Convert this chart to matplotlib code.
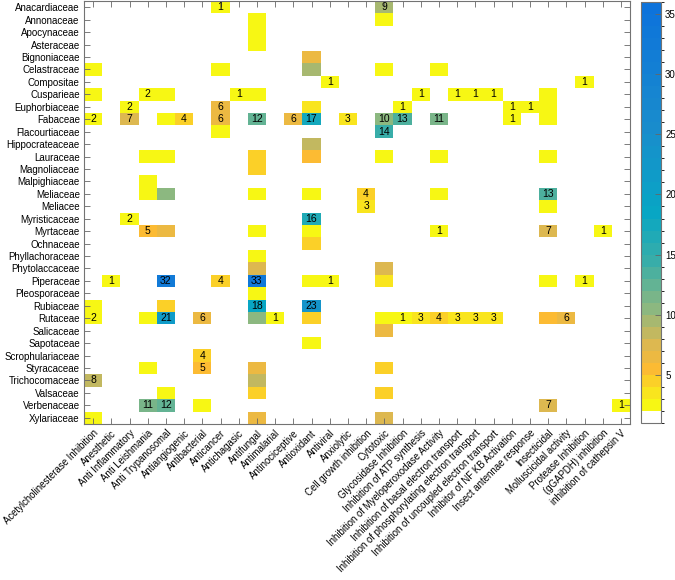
import numpy as np
import matplotlib
matplotlib.use('Agg')
import matplotlib.pyplot as plt
from matplotlib.colors import ListedColormap, LinearSegmentedColormap, BoundaryNorm

plt.rcParams['font.family'] = ['Liberation Sans', 'DejaVu Sans']

families = ['Anacardiaceae', 'Annonaceae', 'Apocynaceae', 'Asteraceae', 'Bignoniaceae',
            'Celastraceae', 'Compositae', 'Cusparieae', 'Euphorbiaceae', 'Fabaceae',
            'Flacourtiaceae', 'Hippocrateaceae', 'Lauraceae', 'Magnoliaceae', 'Malpighiaceae',
            'Meliaceae', 'Meliacee', 'Myristicaceae', 'Myrtaceae', 'Ochnaceae',
            'Phyllachoraceae', 'Phytolaccaceae', 'Piperaceae', 'Pleosporaceae', 'Rubiaceae',
            'Rutaceae', 'Salicaceae', 'Sapotaceae', 'Scrophulariaceae', 'Styracaceae',
            'Trichocomaceae', 'Valsaceae', 'Verbenaceae', 'Xylariaceae']

activities = ['Acetylcholinesterase Inhibition', 'Anesthetic', 'Anti Inflammatory',
              'Anti Leishmania', 'Anti Trypanosomal', 'Antiangiogenic', 'Antibacterial',
              'Anticancer', 'Antichagasic', 'Antifungal', 'Antimalarial', 'Antinociceptive',
              'Antioxidant', 'Antiviral', 'Anxiolytic', 'Cell growth inhibition', 'Cytotoxic',
              'Glycosidase Inhibition', 'Inhibition of ATP synthesis',
              'Inhibition of Myeloperoxodase Activity',
              'Inhibition of basal electron transport',
              'Inhibition of phosphorylating electron transport',
              'Inhibition of uncoupled electron transport', 'Inhibitor of NF KB Activation',
              'Insect antennae response', 'Insecticidal', 'Molluscicidal activity',
              'Protease Inhibition', '(gGAPDH) inhibition', 'inhibition of cathepsin V']

# one entry per family: activity columns, counts, and whether the count is printed
row_cols = [
    [7, 16],
    [9, 16],
    [9],
    [9],
    [12],
    [0, 7, 12, 16, 19],
    [13, 27],
    [0, 3, 4, 8, 9, 18, 20, 21, 22, 25],
    [2, 7, 12, 17, 23, 24, 25],
    [0, 2, 4, 5, 7, 9, 11, 12, 14, 16, 17, 19, 23, 25],
    [7, 16],
    [12],
    [3, 4, 9, 12, 16, 19, 25],
    [9],
    [3],
    [3, 4, 9, 12, 15, 19, 25],
    [15, 25],
    [2, 12],
    [3, 4, 9, 12, 19, 25, 28],
    [12],
    [9],
    [9, 16],
    [1, 4, 7, 9, 12, 13, 16, 25, 27],
    [9],
    [0, 4, 9, 12],
    [0, 3, 4, 6, 9, 10, 12, 16, 17, 18, 19, 20, 21, 22, 25, 26],
    [16],
    [12],
    [6],
    [3, 6, 9, 16],
    [0, 9],
    [4, 9, 16],
    [3, 4, 6, 25, 29],
    [0, 9, 16],
]
row_vals = [
    [1, 9],
    [1, 1],
    [1],
    [1],
    [6],
    [1, 1, 9, 1, 1],
    [1, 1],
    [1, 2, 1, 1, 1, 1, 1, 1, 1, 1],
    [2, 6, 3, 1, 1, 1, 1],
    [2, 7, 1, 4, 6, 12, 6, 17, 3, 10, 13, 11, 1, 1],
    [1, 14],
    [8],
    [1, 1, 4, 5, 1, 1, 1],
    [4],
    [1],
    [1, 10, 1, 1, 4, 1, 13],
    [3, 1],
    [2, 16],
    [5, 6, 1, 1, 1, 7, 1],
    [4],
    [1],
    [7, 7],
    [1, 32, 4, 33, 1, 1, 3, 1, 1],
    [1],
    [1, 4, 18, 23],
    [2, 1, 21, 6, 10, 1, 4, 1, 1, 3, 4, 3, 3, 3, 5, 6],
    [6],
    [1],
    [4],
    [1, 5, 6, 4],
    [8, 8],
    [1, 4, 4],
    [11, 12, 1, 7, 1],
    [1, 6, 7],
]
row_shown = [
    [1, 1],
    [0, 0],
    [0],
    [0],
    [0],
    [0, 0, 0, 0, 0],
    [1, 1],
    [0, 1, 0, 1, 0, 1, 1, 1, 1, 0],
    [1, 1, 0, 1, 1, 1, 0],
    [1, 1, 0, 1, 1, 1, 1, 1, 1, 1, 1, 1, 1, 0],
    [0, 1],
    [0],
    [0, 0, 0, 0, 0, 0, 0],
    [0],
    [0],
    [0, 0, 0, 0, 1, 0, 1],
    [1, 0],
    [1, 1],
    [1, 0, 0, 0, 1, 1, 1],
    [0],
    [0],
    [0, 0],
    [1, 1, 1, 1, 0, 1, 0, 0, 1],
    [0],
    [0, 0, 1, 1],
    [1, 0, 1, 1, 0, 1, 0, 0, 1, 1, 1, 1, 1, 1, 0, 1],
    [0],
    [0],
    [1],
    [0, 1, 0, 0],
    [1, 0],
    [0, 0, 0],
    [1, 1, 0, 1, 1],
    [0, 0, 0],
]

nr, nc = len(families), len(activities)
grid = np.full((nr, nc), np.nan)
for r in range(nr):
    for c, v in zip(row_cols[r], row_vals[r]):
        grid[r, c] = v

# yellow -> orange -> olive -> teal -> blue, one band per unit
grad = LinearSegmentedColormap.from_list('pr', [
    (0.0, (0.97, 0.97, 0.08)),
    (3 / 33, (0.99, 0.73, 0.20)),
    (5 / 33, (0.86, 0.72, 0.32)),
    (8 / 33, (0.55, 0.72, 0.50)),
    (12 / 33, (0.22, 0.68, 0.66)),
    (16 / 33, (0.03, 0.65, 0.77)),
    (23 / 33, (0.10, 0.55, 0.80)),
    (1.0, (0.05, 0.45, 0.86))])
colors = [(1, 1, 1)] + [grad(i / 33) for i in range(34)]
cmap = ListedColormap(colors)
cmap.set_under(colors[1])
cmap.set_bad((1, 1, 1, 0))
bounds = [1.1] + list(range(2, 37))
norm = BoundaryNorm(bounds, cmap.N)

fig = plt.figure(figsize=(6.75, 5.8), dpi=100)
ax = fig.add_axes([84 / 675, 1 - 424 / 580, 546 / 675, 423 / 580])
cax = fig.add_axes([641 / 675, 1 - 423 / 580, 20 / 675, 421 / 580])

mesh = ax.pcolormesh(np.arange(nc + 1) - 0.5, np.arange(nr + 1) - 0.5,
                     np.ma.masked_invalid(grid), cmap=cmap, norm=norm)
ax.set_xlim(-0.5, nc - 0.5)
ax.set_ylim(nr - 0.5, -0.5)

for r in range(nr):
    for c, v, s in zip(row_cols[r], row_vals[r], row_shown[r]):
        if s:
            ax.text(c, r, str(v), ha='center', va='center', fontsize=7.5, color='black')

ax.set_yticks(range(nr))
ax.set_yticklabels(families, fontsize=7)
ax.set_xticks(range(nc))
ax.set_xticklabels(activities, fontsize=6.9, rotation=45, ha='right', va='top',
                   rotation_mode='anchor')
ax.tick_params(direction='in', length=4, width=0.6, color='0.4',
               top=True, right=True, pad=3)
ax.tick_params(axis='x', pad=3)
for sp in ax.spines.values():
    sp.set_color('0.45')
    sp.set_linewidth(0.8)

cb = fig.colorbar(mesh, cax=cax)
cb.set_ticks([5, 10, 15, 20, 25, 30, 35])
cb.ax.tick_params(direction='in', length=4, width=0.6, color='0.4', labelsize=7, pad=3)
cb.outline.set_edgecolor('0.45')
cb.outline.set_linewidth(0.8)

plt.savefig('out.png', dpi=100)
